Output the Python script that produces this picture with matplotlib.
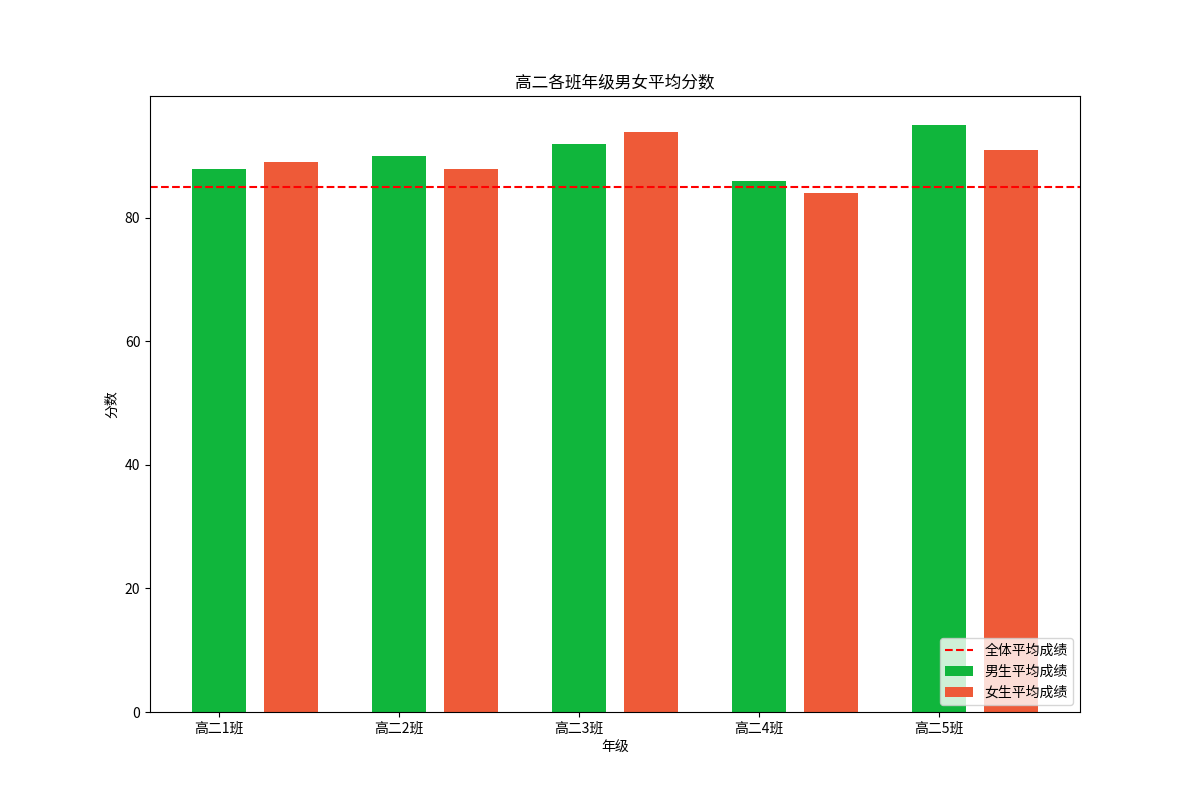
import numpy as np
import matplotlib
matplotlib.use("Agg")
import matplotlib.pyplot as plt

plt.rcParams['font.family'] = ['Noto Sans CJK SC', 'DejaVu Sans']
plt.rcParams['axes.unicode_minus'] = False

classes = ["高二1班", "高二2班", "高二3班", "高二4班", "高二5班"]
boys = [88, 90, 92, 86, 95]
girls = [89, 88, 94, 84, 91]
overall_avg = 85

x = np.arange(len(classes))
width = 0.3

fig, ax = plt.subplots(figsize=(12, 8), dpi=100)
ax.bar(x, boys, width=width, color="#10b63c", label="男生平均成绩")
ax.bar(x + 0.4, girls, width=width, color="#ee5a38", label="女生平均成绩")
ax.axhline(overall_avg, color="red", linestyle="--", label="全体平均成绩")

ax.set_xticks(x)
ax.set_xticklabels(classes)
ax.set_xlabel("年级")
ax.set_ylabel("分数")
ax.set_title("高二各班年级男女平均分数")
ax.legend(loc="lower right")

fig.savefig("out.png", dpi=100)
